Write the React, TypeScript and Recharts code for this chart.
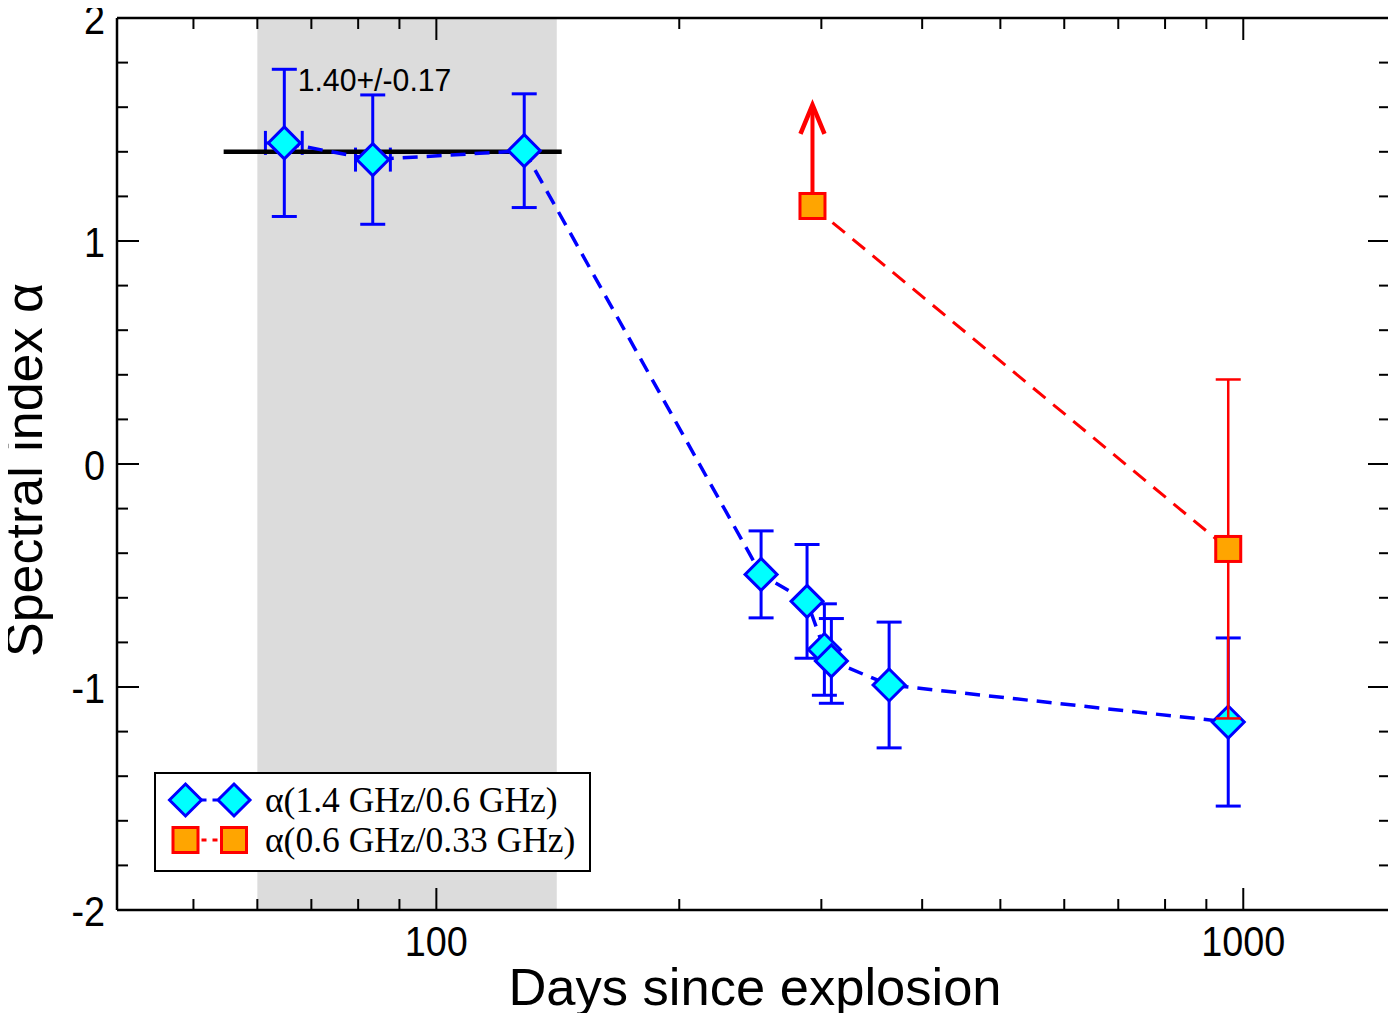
import {
  ComposedChart,
  ErrorBar,
  Legend,
  ReferenceArea,
  ReferenceLine,
  Scatter,
  XAxis,
  YAxis,
} from "recharts";

// alpha(1.4 GHz / 0.6 GHz)
const hiDays = [64.8, 83.4, 128.5, 252.6, 288, 302.6, 308.7, 364, 958];
const hiAlpha = [1.44, 1.365, 1.405, -0.495, -0.616, -0.832, -0.883, -0.991, -1.157];
const hiAlphaErr = [0.33, 0.29, 0.255, 0.195, 0.255, 0.205, 0.19, 0.282, 0.377];
const hiDaysErr: [number, number][] = [
  [3.4, 3.4],
  [4.0, 4.3],
  [0, 0],
  [0, 0],
  [0, 0],
  [0, 0],
  [0, 0],
  [0, 0],
  [0, 0],
];

// alpha(0.6 GHz / 0.33 GHz); the first point is a lower limit
const loDays = [292.5, 958];
const loAlpha = [1.157, -0.381];
const loAlphaErr = [0, 0.76];
const loLimitTop = 1.61;

// mean over the early epochs
const fitValue = 1.4;
const fitErr = 0.17;
const fitDays = [54.5, 143];
const shadeDays = [60, 141];

const dayDomain = [40.2, 1520];
const dayMajor = [100, 1000];
const dayMinor = [50, 60, 70, 80, 90, 200, 300, 400, 500, 600, 700, 800, 900];
const alphaMajor = [-2, -1, 0, 1, 2];
const alphaMinor = [
  -1.8, -1.6, -1.4, -1.2, -0.8, -0.6, -0.4, -0.2, 0.2, 0.4, 0.6, 0.8, 1.2, 1.4,
  1.6, 1.8,
];

const seriesNames = ["α(1.4 GHz/0.6 GHz)", "α(0.6 GHz/0.33 GHz)"];

const hiData = hiDays.map((d, i) => ({
  day: d,
  alpha: hiAlpha[i],
  err: hiAlphaErr[i],
  dayErr: hiDaysErr[i],
}));
const loData = loDays.map((d, i) => ({
  day: d,
  alpha: loAlpha[i],
  err: loAlphaErr[i],
}));

const dayTicks = [...dayMinor, ...dayMajor].sort((a, b) => a - b);
const alphaTicks = [...alphaMinor, ...alphaMajor].sort((a, b) => a - b);

const SANS = '"Liberation Sans", Arial, Helvetica, sans-serif';
const SERIF = '"Liberation Serif", "Times New Roman", serif';
const BLUE = "#0000ff";
const CYAN = "#00ffff";
const RED = "#ff0000";
const ORANGE = "#ffa500";

function DayTick(props: any) {
  const { x, y, payload, side } = props;
  const major = dayMajor.includes(payload.value);
  const len = major ? 22 : 11;
  const dir = side === "bottom" ? -1 : 1;
  return (
    <g>
      <line x1={x} x2={x} y1={y} y2={y + dir * len} stroke="#000" strokeWidth={2} />
      {side === "bottom" && major && (
        <text
          transform={`translate(${x},${y + 46}) scale(0.9,1)`}
          textAnchor="middle"
          fontSize={42}
          fontFamily={SANS}
          fill="#000"
        >
          {payload.value}
        </text>
      )}
    </g>
  );
}

function AlphaTick(props: any) {
  const { x, y, payload, side } = props;
  const major = alphaMajor.includes(payload.value);
  const len = major ? 22 : 11;
  const dir = side === "left" ? 1 : -1;
  return (
    <g>
      <line x1={x} x2={x + dir * len} y1={y} y2={y} stroke="#000" strokeWidth={2} />
      {side === "left" && major && (
        <text
          transform={`translate(${x - 12},${y + 16}) scale(0.9,1)`}
          textAnchor="end"
          fontSize={42}
          fontFamily={SANS}
          fill="#000"
        >
          {payload.value}
        </text>
      )}
    </g>
  );
}

function Diamond({ cx, cy }: any) {
  const r = 16;
  return (
    <polygon
      points={`${cx},${cy - r} ${cx + r},${cy} ${cx},${cy + r} ${cx - r},${cy}`}
      fill={CYAN}
      stroke={BLUE}
      strokeWidth={3}
    />
  );
}

function Square({ cx, cy }: any) {
  const h = 12.5;
  return (
    <rect
      x={cx - h}
      y={cy - h}
      width={2 * h}
      height={2 * h}
      fill={ORANGE}
      stroke={RED}
      strokeWidth={3}
    />
  );
}

function LimitArrow(props: any) {
  const { x1, y1, y2 } = props;
  const tip = Math.min(y1, y2);
  const base = Math.max(y1, y2) - 13;
  return (
    <g>
      <line x1={x1} x2={x1} y1={base} y2={tip + 2} stroke={RED} strokeWidth={4} />
      <polyline
        points={`${x1 - 12},${tip + 29} ${x1},${tip} ${x1 + 12},${tip + 29}`}
        fill="none"
        stroke={RED}
        strokeWidth={4.5}
      />
    </g>
  );
}

function FitLabel(props: any) {
  const vb = props.viewBox || {};
  return (
    <text
      transform={`translate(${vb.x + 74},${vb.y - 61}) scale(0.975,1)`}
      fontSize={31}
      fontFamily={SANS}
      fill="#000"
    >
      {`${fitValue.toFixed(2)}+/-${fitErr.toFixed(2)}`}
    </text>
  );
}

function KeySymbol({ y, kind }: { y: number; kind: "hi" | "lo" }) {
  const stroke = kind === "hi" ? BLUE : RED;
  const Mark = kind === "hi" ? Diamond : Square;
  return (
    <g>
      <line
        x1={29.5}
        x2={78}
        y1={y}
        y2={y}
        stroke={stroke}
        strokeWidth={3}
        strokeDasharray="0 16 5 6 5 50"
      />
      <Mark cx={29.5} cy={y} />
      <Mark cx={78} cy={y} />
    </g>
  );
}

function KeyBox() {
  return (
    <div
      style={{
        width: 437,
        height: 100,
        border: "2px solid #000",
        background: "#fff",
        boxSizing: "border-box",
      }}
    >
      <svg width={433} height={96} style={{ display: "block" }}>
        <KeySymbol y={26} kind="hi" />
        <KeySymbol y={66} kind="lo" />
        <text x={109} y={38} fontSize={35.5} fontFamily={SERIF} fill="#000">
          {seriesNames[0]}
        </text>
        <text x={109} y={78} fontSize={35.5} fontFamily={SERIF} fill="#000">
          {seriesNames[1]}
        </text>
      </svg>
    </div>
  );
}

export default function App() {
  return (
    <div style={{ margin: -8, width: 1396, height: 1021 }}>
      <ComposedChart
        width={1396}
        height={1021}
        margin={{ top: 17, right: 5, left: 0, bottom: 0 }}
        style={{ background: "#fff" }}
      >
        <XAxis
          dataKey="day"
          type="number"
          scale="log"
          domain={dayDomain}
          allowDataOverflow
          ticks={dayTicks}
          interval={0}
          height={111}
          tickSize={0}
          tickMargin={0}
          tickLine={false}
          axisLine={{ stroke: "#000", strokeWidth: 2.5 }}
          tick={(p: any) => <DayTick {...p} side="bottom" />}
          label={(p: any) => {
            const vb = p.viewBox;
            return (
              <text
                x={vb.x + vb.width / 2 + 1.5}
                y={vb.y + 95}
                textAnchor="middle"
                fontSize={52.5}
                fontFamily={SANS}
                fill="#000"
              >
                Days since explosion
              </text>
            );
          }}
        />
        <XAxis
          xAxisId="top"
          orientation="top"
          dataKey="day"
          type="number"
          scale="log"
          domain={dayDomain}
          allowDataOverflow
          ticks={dayTicks}
          interval={0}
          height={1}
          tickSize={0}
          tickMargin={0}
          tickLine={false}
          axisLine={{ stroke: "#000", strokeWidth: 2.5 }}
          tick={(p: any) => <DayTick {...p} side="top" />}
        />
        <YAxis
          type="number"
          domain={[-2, 2]}
          allowDataOverflow
          ticks={alphaTicks}
          interval={0}
          width={117}
          tickSize={0}
          tickMargin={0}
          tickLine={false}
          axisLine={{ stroke: "#000", strokeWidth: 2.5 }}
          tick={(p: any) => <AlphaTick {...p} side="left" />}
          label={(p: any) => {
            const vb = p.viewBox;
            const cx = 42;
            const cy = vb.y + vb.height / 2 + 6;
            return (
              <text
                x={cx}
                y={cy}
                transform={`rotate(-90, ${cx}, ${cy})`}
                textAnchor="middle"
                fontSize={52}
                fontFamily={SANS}
                fill="#000"
              >
                Spectral index α
              </text>
            );
          }}
        />
        <YAxis
          yAxisId="right"
          orientation="right"
          type="number"
          domain={[-2, 2]}
          allowDataOverflow
          ticks={alphaTicks}
          interval={0}
          width={1}
          tickSize={0}
          tickMargin={0}
          tickLine={false}
          axisLine={{ stroke: "#000", strokeWidth: 2.5 }}
          tick={(p: any) => <AlphaTick {...p} side="right" />}
        />

        <ReferenceArea
          x1={shadeDays[0]}
          x2={shadeDays[1]}
          y1={-2}
          y2={2}
          fill="#dcdcdc"
          fillOpacity={1}
          stroke="none"
        />

        <Scatter
          name={seriesNames[0]}
          data={hiData}
          dataKey="alpha"
          shape={Diamond}
          line={{ stroke: BLUE, strokeWidth: 3.5, strokeDasharray: "15 9" }}
          lineType="joint"
          isAnimationActive={false}
        >
          <ErrorBar
            dataKey="err"
            direction="y"
            width={12.5}
            stroke={BLUE}
            strokeWidth={3}
            isAnimationActive={false}
          />
          <ErrorBar
            dataKey="dayErr"
            direction="x"
            width={12}
            stroke={BLUE}
            strokeWidth={3}
            isAnimationActive={false}
          />
        </Scatter>

        <Scatter
          name={seriesNames[1]}
          data={loData}
          dataKey="alpha"
          xAxisId="top"
          shape={Square}
          line={{ stroke: RED, strokeWidth: 3, strokeDasharray: "16 10" }}
          lineType="joint"
          isAnimationActive={false}
          zIndex={700}
        >
          <ErrorBar
            dataKey="err"
            direction="y"
            width={12.5}
            stroke={RED}
            strokeWidth={2.5}
            isAnimationActive={false}
            zIndex={650}
          />
        </Scatter>

        <ReferenceLine
          segment={[
            { x: fitDays[0], y: fitValue },
            { x: fitDays[1], y: fitValue },
          ]}
          stroke="#000"
          strokeWidth={4.5}
          label={(p: any) => <FitLabel {...p} />}
        />
        <ReferenceLine
          segment={[
            { x: loDays[0], y: loAlpha[0] },
            { x: loDays[0], y: loLimitTop },
          ]}
          stroke={RED}
          shape={(p: any) => <LimitArrow {...p} />}
        />

        <Legend
          layout="vertical"
          align="center"
          verticalAlign="middle"
          wrapperStyle={{ left: 154, top: 772, width: "auto" }}
          content={() => <KeyBox />}
        />
      </ComposedChart>
    </div>
  );
}
